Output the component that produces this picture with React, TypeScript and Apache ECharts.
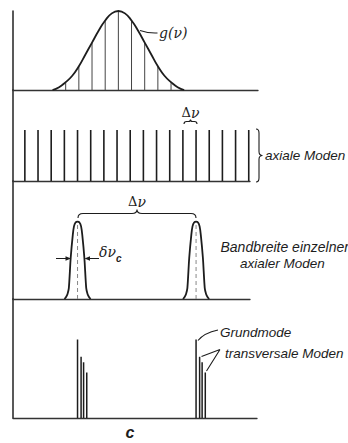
import React, { useEffect, useRef } from "react";
import * as echarts from "echarts";

// ---------- data (frequency in units of the axial mode spacing Δν) ----------
const AXIAL_MODES: number[] = [0, 1, 2, 3, 4, 5, 6, 7, 8, 9, 10, 11, 12, 13, 14, 15, 16, 17];
const AXIAL_HEIGHT = 1;

// gain profile g(ν): [frequency, relative gain]
const GAIN_CURVE: number[][] = [
  [2.1, 0], [2.6, 0.035], [3.1, 0.1], [3.6, 0.18], [4.1, 0.3], [4.6, 0.45], [5.1, 0.6],
  [5.6, 0.75], [6.1, 0.88], [6.6, 0.97], [7.1, 1], [7.6, 0.97], [8.1, 0.88], [8.6, 0.75],
  [9.1, 0.6], [9.6, 0.45], [10.1, 0.3], [10.6, 0.18], [11.1, 0.1], [11.6, 0.035], [12.1, 0],
];
// modes inside the gain profile: [frequency, height]
const GAIN_LINES: number[][] = [
  [3.1, 0.1], [4.1, 0.3], [5.1, 0.6], [6.1, 0.88], [7.1, 1], [8.1, 0.88], [9.1, 0.6], [10.1, 0.3], [11.1, 0.1],
];

// single axial mode line shape: [offset from centre, relative height]
const PEAK_CENTERS: number[] = [4, 13];
const PEAK_PROFILE: number[][] = [
  [0, 1], [0.15, 0.99], [0.27, 0.94], [0.36, 0.83], [0.52, 0.53], [0.66, 0.14], [0.76, 0.065], [0.87, 0.026], [0.99, 0],
];

// fundamental + transverse modes per axial mode
const MODE_GROUPS: number[] = [4, 13];
const TRANS_OFFSETS: number[] = [0, 0.27, 0.46, 0.7];
const TRANS_HEIGHTS: number[] = [1, 0.78, 0.71, 0.58];

// ---------- layout ----------
const PX_PER_UNIT = 13.17;
const X_MIN = -0.9;
const LEFT = 13;
const INK = "#1d1d1d";
const SANS = '"Liberation Sans", Arial, sans-serif';
const SERIF = '"DejaVu Serif", "Liberation Serif", serif';

const PANELS = [
  { top: 11, height: 79, width: 245, yMax: 1 },
  { top: 90, height: 91, width: 237, yMax: 1.784 },
  { top: 181, height: 118, width: 237, yMax: 1.527 },
  { top: 299, height: 119, width: 244, yMax: 1.516 },
];

const ANNOT_PATH = [
  "M184,124 Q184,121.5 186.5,121.5 L188.5,121.5 Q190.5,121.5 190.5,119.5 Q190.5,121.5 192.5,121.5 L194.5,121.5 Q197,121.5 197,124",
  "M256,129 Q259,129 259,133 L259,151.5 Q259,155.5 262.5,155.5 Q259,155.5 259,159.5 L259,178 Q259,182 256,182",
  "M78,218 Q78,213.5 83,213.5 L132,213.5 Q137,213.5 137,209.5 Q137,213.5 142,213.5 L191,213.5 Q196,213.5 196,218",
  "M140,30.5 Q149,33.5 157.5,33",
  "M218,330 Q204,333 198,340.5",
  "M220,349.5 L201.5,356.5 M220,349.5 L206.5,371",
  "M56,258.5 L67,258.5 M99,258.5 L88,258.5",
].join(" ");

echarts.graphic.registerShape("annot", echarts.graphic.extendPath(ANNOT_PATH, {}) as any);

function stemSeries(data: number[][], idx: number, color: string, width: number, dash?: number[]) {
  return {
    type: "custom",
    xAxisIndex: idx,
    yAxisIndex: idx,
    silent: true,
    clip: false,
    data,
    encode: { x: 0, y: 1 },
    renderItem: (_p: any, api: any) => {
      const x = api.value(0) as number;
      const h = api.value(1) as number;
      const a = api.coord([x, 0]);
      const b = api.coord([x, h]);
      return {
        type: "line",
        shape: { x1: a[0], y1: a[1], x2: b[0], y2: b[1] },
        style: { stroke: color, lineWidth: width, lineDash: dash },
      };
    },
  };
}

function peakData(center: number): number[][] {
  const left = [...PEAK_PROFILE].reverse().map(([o, h]) => [center - o, h]);
  const right = PEAK_PROFILE.slice(1).map(([o, h]) => [center + o, h]);
  return [...left, ...right];
}

function txt(x: number, y: number, text: string, opts: any = {}) {
  return {
    type: "text",
    x,
    y,
    silent: true,
    style: {
      text,
      fill: INK,
      fontFamily: SANS,
      fontStyle: "italic",
      fontSize: 13.5,
      textAlign: "left",
      textVerticalAlign: "middle",
      ...opts,
    },
  };
}

function deltaNu(x: number, y: number) {
  return {
    type: "text",
    x,
    y,
    silent: true,
    style: {
      text: "{d|Δ}{n|ν}",
      textAlign: "center",
      textVerticalAlign: "middle",
      rich: {
        d: { fontFamily: SERIF, fontSize: 13, fill: INK },
        n: { fontFamily: SERIF, fontSize: 14, fontStyle: "italic", fill: INK },
      },
    },
  };
}

function buildOption() {
  const grid = PANELS.map((p) => ({ left: LEFT, top: p.top, width: p.width, height: p.height }));
  const xAxis = PANELS.map((p, i) => ({
    type: "value",
    gridIndex: i,
    min: X_MIN,
    max: X_MIN + p.width / PX_PER_UNIT,
    axisLine: { show: true, onZero: false, lineStyle: { color: "#333", width: 1.3 } },
    axisTick: { show: false },
    axisLabel: { show: false },
    splitLine: { show: false },
  }));
  const yAxis = PANELS.map((p, i) => ({
    type: "value",
    gridIndex: i,
    min: 0,
    max: p.yMax,
    axisLine: { show: true, onZero: false, lineStyle: { color: "#222", width: 1.5 } },
    axisTick: { show: false },
    axisLabel: { show: false },
    splitLine: { show: false },
  }));

  const transData: number[][] = [];
  MODE_GROUPS.forEach((c) =>
    TRANS_OFFSETS.forEach((o, k) => transData.push([c + o, TRANS_HEIGHTS[k]]))
  );

  const series: any[] = [
    // panel 1: gain profile
    stemSeries(GAIN_LINES, 0, "#444", 1),
    {
      type: "line",
      xAxisIndex: 0,
      yAxisIndex: 0,
      data: GAIN_CURVE,
      smooth: 0.5,
      showSymbol: false,
      silent: true,
      lineStyle: { color: INK, width: 1.8 },
    },
    // panel 2: axial modes
    stemSeries(AXIAL_MODES.map((m) => [m, AXIAL_HEIGHT]), 1, INK, 1.6),
    // panel 3: line shapes of single axial modes
    stemSeries(PEAK_CENTERS.map((c) => [c, 0.97]), 2, "#888", 1, [4, 3]),
    ...PEAK_CENTERS.map((c) => ({
      type: "line",
      xAxisIndex: 2,
      yAxisIndex: 2,
      data: peakData(c),
      smooth: 0.25,
      showSymbol: false,
      silent: true,
      lineStyle: { color: INK, width: 1.8 },
    })),
    // panel 4: fundamental and transverse modes
    stemSeries(transData, 3, INK, 1.5),
  ];

  const graphic: any[] = [
    { type: "annot", silent: true, style: { stroke: INK, fill: null, lineWidth: 1.1 } },
    { type: "polygon", silent: true, shape: { points: [[71, 258.5], [65.5, 256.3], [65.5, 260.7]] }, style: { fill: INK } },
    { type: "polygon", silent: true, shape: { points: [[84.5, 258.5], [90, 256.3], [90, 260.7]] }, style: { fill: INK } },
    txt(159, 33, "g(ν)", { fontFamily: SERIF, fontSize: 14 }),
    deltaNu(190.5, 112.5),
    txt(265, 155.5, "axiale Moden"),
    deltaNu(137, 201.5),
    txt(99, 251.5, "δν", { fontFamily: SERIF, fontSize: 14 }),
    txt(116, 258, "c", { fontFamily: SANS, fontSize: 10, fontWeight: "bold" }),
    txt(220.5, 247, "Bandbreite einzelner", { fontSize: 14 }),
    txt(240, 263, "axialer Moden"),
    txt(220, 332.5, "Grundmode"),
    txt(225, 353.5, "transversale Moden"),
    txt(130, 432.5, "c", { fontSize: 16, fontWeight: "bold", textAlign: "center" }),
  ];

  return {
    animation: false,
    backgroundColor: "#fff",
    grid,
    xAxis,
    yAxis,
    series,
    graphic,
  };
}

export default function App() {
  const ref = useRef<HTMLDivElement>(null);
  useEffect(() => {
    document.body.style.margin = "0";
    const chart = echarts.init(ref.current as HTMLDivElement, null, { renderer: "svg" });
    chart.setOption(buildOption() as any);
    return () => chart.dispose();
  }, []);
  return <div ref={ref} style={{ width: 348, height: 443, background: "#fff" }} />;
}
